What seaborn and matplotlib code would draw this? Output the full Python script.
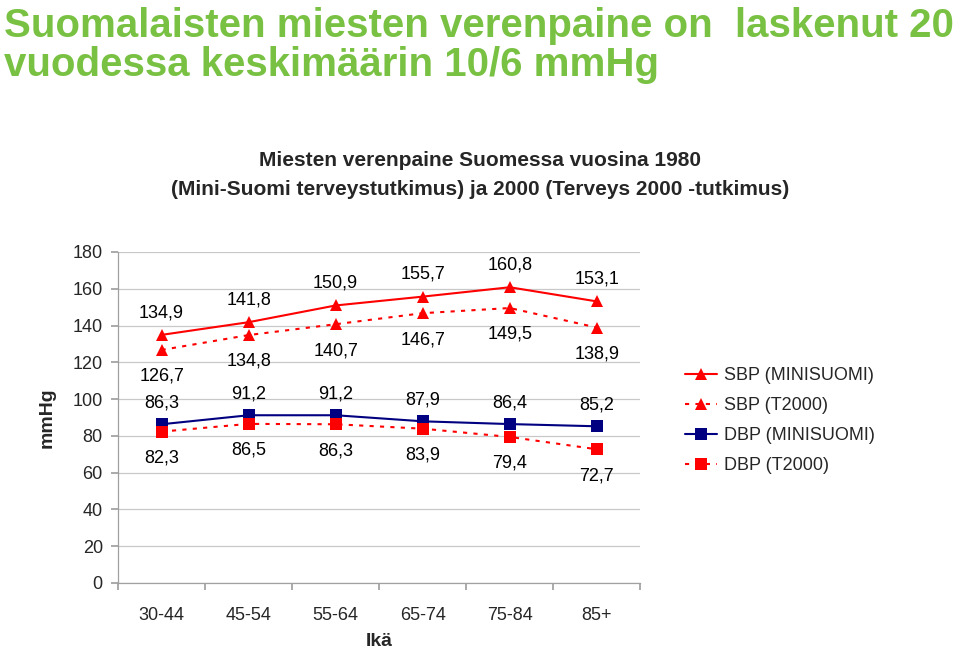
import matplotlib.pyplot as plt
import numpy as np
import pandas as pd
import seaborn as sns

ages = ["30-44", "45-54", "55-64", "65-74", "75-84", "85+"]
sbp_mini = [134.9, 141.8, 150.9, 155.7, 160.8, 153.1]
sbp_t2000 = [126.7, 134.8, 140.7, 146.7, 149.5, 138.9]
dbp_mini = [86.3, 91.2, 91.2, 87.9, 86.4, 85.2]
dbp_t2000 = [82.3, 86.5, 86.3, 83.9, 79.4, 72.7]

RED = "#ff0000"
NAVY = "#000080"
GREEN = "#79c143"

sns.set_theme(style="white")
plt.rcParams["font.family"] = ["Liberation Sans", "DejaVu Sans"]

fig = plt.figure(figsize=(9.6, 6.51), dpi=100)
ax = fig.add_axes([0.123, 0.1045, 0.544, 0.5085])

series = [
    ("SBP (MINISUOMI)", sbp_mini, RED, "-", "^", 16),
    ("SBP (T2000)", sbp_t2000, RED, (0, (2, 3)), "^", -19),
    ("DBP (MINISUOMI)", dbp_mini, NAVY, "-", "s", 15),
    ("DBP (T2000)", dbp_t2000, RED, (0, (2, 3)), "s", -19),
]

for label, values, color, ls, marker, dy in series:
    df = pd.DataFrame({"age": ages, "value": values})
    sns.lineplot(data=df, x="age", y="value", ax=ax, color=color, linestyle=ls,
                 linewidth=1.5, marker=marker, markersize=8, markeredgewidth=0,
                 markerfacecolor=color, label=label)
    for i, v in enumerate(values):
        ax.annotate(f"{v:.1f}".replace(".", ","), (i, v), xytext=(0, dy),
                    textcoords="offset points", ha="center", va="center",
                    fontsize=13, color="black")

ax.set_ylim(0, 180)
ax.set_xlim(-0.5, len(ages) - 0.5)
ax.set_yticks(np.arange(0, 181, 20))
ax.yaxis.grid(True, color="#c8c8c8", linewidth=0.9)
ax.set_axisbelow(True)
for s in ["top", "right"]:
    ax.spines[s].set_visible(False)
for s in ["left", "bottom"]:
    ax.spines[s].set_color("#a0a0a0")
    ax.spines[s].set_linewidth(0.9)

ax.set_xticks(np.arange(-0.5, len(ages), 1.0))
ax.set_xticklabels([])
ax.set_xticks(np.arange(len(ages)), minor=True)
ax.set_xticklabels(ages, minor=True)
ax.tick_params(axis="x", which="major", length=5, color="#a0a0a0", direction="out", bottom=True)
ax.tick_params(axis="x", which="minor", length=0, pad=17, labelsize=13)
ax.tick_params(axis="y", length=5, color="#a0a0a0", direction="out", left=True, labelsize=13, pad=6)

ax.set_xlabel("Ikä", fontsize=14, fontweight="bold", labelpad=7)
ax.set_ylabel("mmHg", fontsize=14, fontweight="bold")
ax.yaxis.set_label_coords(-0.12, 0.5)

ax.legend(loc="center left", bbox_to_anchor=(1.085, 0.49), frameon=False,
          fontsize=13, handlelength=1.8, handletextpad=0.35, labelspacing=0.72,
          borderaxespad=0, borderpad=0)

fig.text(0.004, 0.989, "Suomalaisten miesten verenpaine on  laskenut 20\nvuodessa keskimäärin 10/6 mmHg",
         ha="left", va="top", fontsize=29, fontweight="bold", color=GREEN,
         linespacing=1.04)
fig.text(0.5, 0.731, "Miesten verenpaine Suomessa vuosina 1980\n(Mini-Suomi terveystutkimus) ja 2000 (Terveys 2000 -tutkimus)",
         ha="center", va="center", fontsize=15, fontweight="bold", linespacing=1.65)

fig.savefig("out.png", dpi=100)
